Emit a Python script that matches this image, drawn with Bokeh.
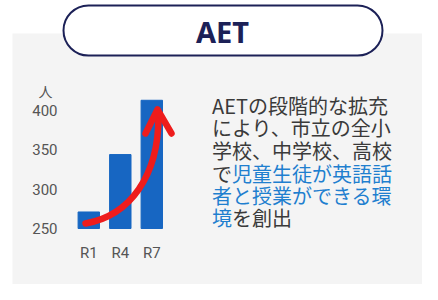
from bokeh.plotting import figure
from bokeh.models import (BoxAnnotation, Label, FixedTicker, Range1d, LinearAxis)
from bokeh.embed import file_html
from bokeh.resources import INLINE

# ---- data ----
categories = ["R1", "R4", "R7"]
aet_counts = [271, 344, 413]
y_ticks = [250, 300, 350, 400]
unit_label = "人"
title_text = "AET"
desc_lines = [
    [("AETの段階的な拡充", "gray")],
    [("により、市立の全小", "gray")],
    [("学校、中学校、高校", "gray")],
    [("で", "gray"), ("児童生徒が英語話", "blue")],
    [("者と授業ができる環", "blue")],
    [("境", "blue"), ("を創出", "gray")],
]

# ---- style ----
W, H = 422, 284
PANEL = "#f4f4f4"
NAVY = "#1c2157"
BAR = "#1766c2"
RED = "#ee1c1c"
GRAY_TXT = "#3a3a3a"
BLUE_TXT = "#1f7fcf"
AX_TXT = "#555555"

OFF = 0  # offset between reference pixels and canvas pixels

def cx(X):
    return X - OFF

def cy(Y):
    return Y - OFF

# bar scale: index -> px, value -> px
X0_PX, X_UNIT = cx(88.3), 31.5
V250_PX, V_UNIT = cy(228), 118 / 150

p = figure(width=W, height=H, output_backend="svg", toolbar_location=None,
           x_range=Range1d(0, W), y_range=Range1d(H, 0),
           x_axis_location=None, y_axis_location=None, min_border=0)
p.background_fill_color = "white"
p.border_fill_color = "white"
p.outline_line_color = None
p.grid.visible = False

p.extra_x_ranges = {"bx": Range1d(-X0_PX / X_UNIT, (W - X0_PX) / X_UNIT)}
p.extra_y_ranges = {"vy": Range1d(250 - (H - V250_PX) / V_UNIT, 250 + V250_PX / V_UNIT)}

# grey panel
p.add_layout(BoxAnnotation(left=cx(12), right=W + 5, top=cy(33), bottom=H + 5,
                           fill_color=PANEL, fill_alpha=1, line_color=None,
                           level="underlay"))

# bars
xs = list(range(len(categories)))
p.vbar(x=xs, top=aet_counts, bottom=250, width=0.68, color=BAR,
       x_range_name="bx", y_range_name="vy")

# red arrow
p.bezier(x0=[-0.105], y0=[256.4], x1=[2.213], y1=[392.4],
         cx0=[1.324], cy0=[266.5], cx1=[2.213], cy1=[317.4],
         line_color=RED, line_width=6.5, line_cap="round",
         x_range_name="bx", y_range_name="vy")
p.line(x=[1.8, 2.181, 2.625], y=[370.8, 401.3, 370.8], line_color=RED,
       line_width=6.5, line_cap="round", line_join="round",
       x_range_name="bx", y_range_name="vy")

# axes
yax = LinearAxis(y_range_name="vy", fixed_location=cx(62),
                 ticker=FixedTicker(ticks=y_ticks))
xax = LinearAxis(x_range_name="bx", fixed_location=cy(236),
                 ticker=FixedTicker(ticks=xs),
                 major_label_overrides={i: c for i, c in enumerate(categories)})
for ax in (xax, yax):
    ax.axis_line_color = None
    ax.major_tick_line_color = None
    ax.minor_tick_line_color = None
    ax.major_tick_out = 0
    ax.major_tick_in = 0
    ax.major_label_text_font = "Roboto"
    ax.major_label_text_font_size = "15px"
    ax.major_label_text_color = AX_TXT
yax.major_label_standoff = 5
xax.major_label_standoff = 7
p.add_layout(yax, "left")
p.add_layout(xax, "below")

# unit label
p.add_layout(Label(x=cx(45), y=cy(90), text=unit_label,
                   text_font="Noto Sans CJK JP", text_font_size="14px",
                   text_color=AX_TXT, text_align="center", text_baseline="middle"))

# title pill
p.add_layout(BoxAnnotation(left=cx(63), right=cx(382), top=cy(5), bottom=cy(55),
                           fill_color="white", fill_alpha=1, line_color=NAVY,
                           line_alpha=1, line_width=2, border_radius=25,
                           level="overlay"))
p.add_layout(Label(x=cx(222), y=cy(31), text=title_text, text_font="Noto Sans",
                   text_font_style="bold", text_font_size="29px", text_color=NAVY,
                   text_align="center", text_baseline="middle", level="overlay"))

# description text
FS = 20
line_y = [105, 127, 150, 173, 195, 217]
for Y, parts in zip(line_y, desc_lines):
    X = 211.5
    for txt, kind in parts:
        p.add_layout(Label(x=cx(X), y=cy(Y), text=txt,
                           text_font="Noto Sans CJK JP", text_font_size=f"{FS}px",
                           text_color=GRAY_TXT if kind == "gray" else BLUE_TXT,
                           text_align="left", text_baseline="middle"))
        X += FS * len(txt)

open("out.html", "w").write(file_html(p, INLINE))
